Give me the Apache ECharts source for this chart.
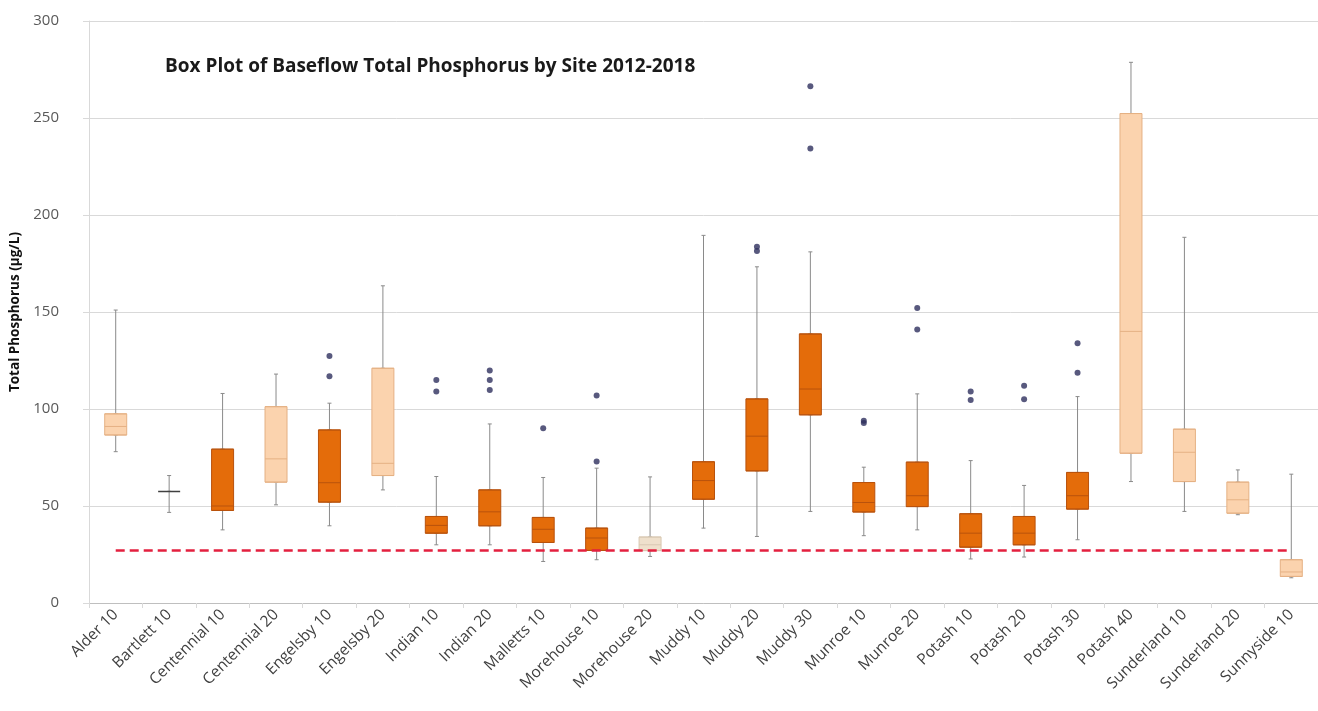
<!DOCTYPE html>
<html>
<head>
<meta charset="utf-8">
<script src="https://cdn.jsdelivr.net/npm/echarts@6/dist/echarts.min.js"></script>
<style>
  html, body { margin: 0; padding: 0; background: #fff; }
  #chart { width: 1318px; height: 711px; }
</style>
</head>
<body>
<div id="chart"></div>
<script>
var sites = ['Alder 10', 'Bartlett 10', 'Centennial 10', 'Centennial 20', 'Engelsby 10', 'Engelsby 20',
    'Indian 10', 'Indian 20', 'Malletts 10', 'Morehouse 10', 'Morehouse 20', 'Muddy 10', 'Muddy 20',
    'Muddy 30', 'Munroe 10', 'Munroe 20', 'Potash 10', 'Potash 20', 'Potash 30', 'Potash 40',
    'Sunderland 10', 'Sunderland 20', 'Sunnyside 10'];

var whiskerLow  = [78, 46.7, 37.7, 50.6, 39.8, 58.3, 30, 30, 21.4, 22.3, 24, 38.6, 34.3, 47.2, 34.7, 37.7, 22.7, 23.7, 32.6, 62.6, 47.2, 45.5, 13];
var q1          = [86.6, 57.5, 47.7, 62.3, 52, 65.7, 36, 39.8, 31.2, 27.1, 27, 53.5, 68.1, 97, 46.9, 49.7, 28.8, 30, 48.4, 77.2, 62.6, 46.3, 13.7];
var median      = [91, 57.5, 50, 74.3, 62, 72, 40, 47, 38, 33.5, 30, 63.1, 86, 110.3, 51.8, 55.3, 36, 36, 55.3, 140, 77.7, 53.2, 16];
var q3          = [97.5, 57.5, 79.3, 101.2, 89.2, 121, 44.6, 58.3, 44.1, 38.6, 34, 72.8, 105.2, 138.7, 62.1, 72.6, 46, 44.6, 67.3, 252.3, 89.6, 62.3, 22.3];
var whiskerHigh = [151, 65.7, 108, 118, 103, 163.5, 65.2, 92.3, 64.7, 69.5, 65, 189.5, 173.3, 181, 70, 107.8, 73.4, 60.6, 106.4, 278.7, 188.5, 68.6, 66.4];

var outliers = [
    ['Engelsby 10', 127.3], ['Engelsby 10', 116.9],
    ['Indian 10', 115], ['Indian 10', 109],
    ['Indian 20', 119.8], ['Indian 20', 115], ['Indian 20', 109.8],
    ['Malletts 10', 90.1],
    ['Morehouse 10', 106.9], ['Morehouse 10', 72.9],
    ['Muddy 20', 183.6], ['Muddy 20', 181.5],
    ['Muddy 30', 266.4], ['Muddy 30', 234.3],
    ['Munroe 10', 94], ['Munroe 10', 92.8],
    ['Munroe 20', 152], ['Munroe 20', 141],
    ['Potash 10', 109], ['Potash 10', 104.7],
    ['Potash 20', 112], ['Potash 20', 105],
    ['Potash 30', 133.9], ['Potash 30', 118.7]
];

var yTicks = [0, 50, 100, 150, 200, 250, 300];
var targetTP = 27;

// light coloured boxes in the original
var lightSites = ['Alder 10', 'Centennial 20', 'Engelsby 20', 'Potash 40', 'Sunderland 10', 'Sunderland 20', 'Sunnyside 10'];

var myChart = echarts.init(document.getElementById('chart'));

function boxStyle(name) {
    if (name === 'Bartlett 10') return { color: '#555', borderColor: '#404040', borderWidth: 1.5 };
    if (name === 'Morehouse 20') return { color: '#efe0cc', borderColor: '#d9c8b2', borderWidth: 1 };
    if (lightSites.indexOf(name) >= 0) return { color: '#fbd3ae', borderColor: '#e5b184', borderWidth: 1 };
    return { color: '#e46c0a', borderColor: '#b9520c', borderWidth: 1 };
}

var whiskerData = [];
var boxData = [];
for (var i = 0; i < sites.length; i++) {
    whiskerData.push([whiskerLow[i], q1[i], median[i], q3[i], whiskerHigh[i]]);
    boxData.push({
        value: [q1[i], q1[i], median[i], q3[i], q3[i]],
        itemStyle: boxStyle(sites[i])
    });
}

var labelFont = '"Open Sans", "Liberation Sans", sans-serif';

var option = {
    backgroundColor: '#fff',
    animation: false,
    title: {
        text: 'Box Plot of Baseflow Total Phosphorus by Site 2012-2018',
        left: 160,
        top: 52,
        textStyle: { fontFamily: labelFont, fontWeight: 'bold', fontSize: 19, color: '#1a1a1a' }
    },
    grid: { left: 89, top: 21, width: 1232, bottom: 108 },
    xAxis: [{
        type: 'category',
        data: sites,
        boundaryGap: true,
        axisLine: { lineStyle: { color: '#bfbfbf' } },
        axisTick: { show: true, length: 5, lineStyle: { color: '#d9d9d9' } },
        axisLabel: { interval: 0, rotate: 45, margin: 9, fontSize: 15.5, color: '#404040', fontFamily: labelFont },
        splitLine: { show: false }
    }, {
        type: 'category',
        data: sites,
        show: false
    }],
    yAxis: {
        type: 'value',
        min: yTicks[0],
        max: yTicks[yTicks.length - 1],
        interval: 50,
        name: 'Total Phosphorus (µg/L)',
        nameLocation: 'middle',
        nameGap: 55,
        nameTextStyle: { fontFamily: labelFont, fontWeight: 'bold', fontSize: 13.5, color: '#111' },
        axisLine: { show: true, lineStyle: { color: '#d9d9d9' } },
        axisTick: { show: true, length: 6, lineStyle: { color: '#d9d9d9' } },
        axisLabel: { margin: 30, fontSize: 15, color: '#595959', fontFamily: labelFont },
        splitLine: { lineStyle: { color: '#d9d9d9' } }
    },
    series: [
        {
            name: 'whiskers',
            type: 'boxplot',
            xAxisIndex: 1,
            boxWidth: [4, 4],
            data: whiskerData,
            z: 2,
            itemStyle: { color: 'transparent', borderColor: '#8a8a8a', borderWidth: 1 }
        },
        {
            name: 'boxes',
            type: 'boxplot',
            xAxisIndex: 0,
            boxWidth: [22, 22],
            data: boxData,
            z: 3
        },
        {
            name: 'outliers',
            type: 'scatter',
            xAxisIndex: 0,
            data: outliers,
            symbolSize: 6,
            z: 4,
            itemStyle: { color: '#2e2f5e' },
            markLine: {
                silent: true,
                symbol: 'none',
                label: { show: false },
                lineStyle: { color: '#e3203f', width: 2.5, type: [9, 5] },
                data: [[{ coord: [sites[0], targetTP] }, { coord: [sites[sites.length - 1], targetTP] }]]
            }
        }
    ]
};

myChart.setOption(option);
window.addEventListener('resize', function () {
    myChart.resize();
});
</script>
</body>
</html>
